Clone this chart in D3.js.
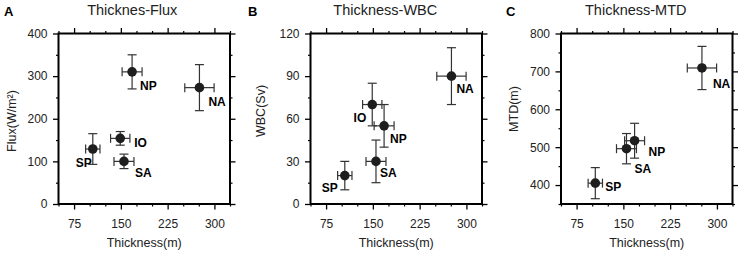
<!DOCTYPE html>
<html><head><meta charset="utf-8">
<script src="https://cdn.jsdelivr.net/npm/d3@7"></script>
<style>
html,body{margin:0;padding:0;background:#fff;}
svg{display:block;font-family:"Liberation Sans",Arial,Helvetica,sans-serif;}
</style></head>
<body>
<svg id="chart" width="743" height="253"></svg>
<script>
// ---- data ----
const regions = ["NP", "NA", "IO", "SA", "SP"];
const thickness = [168, 276, 149, 155, 105];
const thicknessErr = [16, 23.5, 15.5, 16, 11.5];

const flux = [310, 273, 154, 100, 129];
const fluxErr = [40, 54, 16, 17, 36];

const wbc = [55, 90, 70, 30, 20];
const wbcErr = [15, 20, 15, 15, 10];

const mtdRegions = ["NP", "NA", "SA", "SP"];
const mtd = [517, 709, 496, 405];
const mtdErr = [46, 57, 40, 41];

const xTickValues = [75, 150, 225, 300];
const fluxTicks = [0, 100, 200, 300, 400];
const wbcTicks = [0, 30, 60, 90, 120];
const mtdTicks = [400, 500, 600, 700, 800];

// ---- layout/style config ----
const plotTop = 33.5, plotH = 170.5, plotW = 171.5;
const panels = [
  {letter: "A", title: "Thicknes-Flux", yLabel: "Flux(W/m²)", left: 58.5, yDomain: [0, 400], yTicks: fluxTicks, yMinorStep: 50,
   regions: regions, yVals: flux, yErr: fluxErr, yLabelX: 16, yLabelY: 121, letterX: 4, titleDx: -12,
   lab: {NP: [8, 18, "start"], NA: [9, 18, "start"], IO: [14, 9, "start"], SA: [11, 16, "start"], SP: [-1, 18, "end"]}},
  {letter: "B", title: "Thickness-WBC", yLabel: "WBC(Sv)", left: 310.5, yDomain: [0, 120], yTicks: wbcTicks, yMinorStep: 15,
   regions: regions, yVals: wbc, yErr: wbcErr, yLabelX: 265, yLabelY: 111, letterX: 248, titleDx: -11,
   lab: {NP: [6, 17, "start"], NA: [5, 17, "start"], IO: [-6, 17, "end"], SA: [4, 16, "start"], SP: [-7, 16, "end"]}},
  {letter: "C", title: "Thickness-MTD", yLabel: "MTD(m)", left: 561, yDomain: [350, 800], yTicks: mtdTicks, yMinorStep: 50,
   regions: mtdRegions, yVals: mtd, yErr: mtdErr, yLabelX: 518, yLabelY: 109, letterX: 506, titleDx: -11,
   lab: {NP: [14, 15, "start"], NA: [11, 20, "start"], SA: [8, 24, "start"], SP: [10, 8, "start"]}}
];

const svg = d3.select("#chart");

panels.forEach(p => {
  const g = svg.append("g");
  const x = d3.scaleLinear().domain([50, 325]).range([p.left, p.left + plotW]);
  const y = d3.scaleLinear().domain(p.yDomain).range([plotTop + plotH, plotTop]);

  const xMinor = d3.range(50, 326, 25).filter(v => !xTickValues.includes(v));
  const yMinor = d3.range(p.yDomain[0], p.yDomain[1] + 0.001, p.yMinorStep).filter(v => !p.yTicks.includes(v));

  function axisSet(axisFn, scale, transform, major, minor) {
    const a = g.append("g").attr("transform", transform)
      .call(axisFn(scale).tickValues(major).tickSize(5.5).tickFormat(d3.format("d")));
    a.select(".domain").remove();
    a.selectAll("line").attr("stroke", "#000").attr("stroke-width", 1.3);
    const m = g.append("g").attr("transform", transform)
      .call(axisFn(scale).tickValues(minor).tickSize(2.5).tickFormat(""));
    m.select(".domain").remove();
    m.selectAll("line").attr("stroke", "#000").attr("stroke-width", 1.2);
    return a;
  }
  const bx = axisSet(d3.axisBottom, x, `translate(0,${plotTop + plotH})`, xTickValues, xMinor);
  bx.selectAll("text").attr("font-size", 12).attr("fill", "#222").attr("y", 0).attr("dy", 0)
    .attr("transform", "translate(0,23.5)")
    .attr("font-family", "Liberation Sans, Arial, sans-serif");
  const tx = axisSet(d3.axisTop, x, `translate(0,${plotTop})`, xTickValues, xMinor);
  tx.selectAll("text").remove();
  const ly = axisSet(d3.axisLeft, y, `translate(${p.left},0)`, p.yTicks, yMinor);
  ly.selectAll("text").attr("font-size", 12).attr("fill", "#222").attr("x", -11)
    .attr("font-family", "Liberation Sans, Arial, sans-serif");
  const ry = axisSet(d3.axisRight, y, `translate(${p.left + plotW},0)`, p.yTicks, yMinor);
  ry.selectAll("text").remove();

  // box
  g.append("rect").attr("x", p.left).attr("y", plotTop).attr("width", plotW).attr("height", plotH)
    .attr("fill", "none").attr("stroke", "#000").attr("stroke-width", 2);

  // points
  const data = p.regions.map((r, i) => {
    const ti = regions.indexOf(r);
    return {r, tx: thickness[ti], txe: thicknessErr[ti], v: p.yVals[i], ve: p.yErr[i]};
  });
  const cap = 4.5;
  const eb = g.append("g").attr("stroke", "#333").attr("stroke-width", 1.2).attr("fill", "none");
  data.forEach(d => {
    const cx = x(d.tx), cy = y(d.v);
    const y1 = y(d.v + d.ve), y2 = y(d.v - d.ve);
    const x1 = x(d.tx - d.txe), x2 = x(d.tx + d.txe);
    eb.append("line").attr("x1", cx).attr("x2", cx).attr("y1", y1).attr("y2", y2);
    eb.append("line").attr("x1", cx - cap).attr("x2", cx + cap).attr("y1", y1).attr("y2", y1);
    eb.append("line").attr("x1", cx - cap).attr("x2", cx + cap).attr("y1", y2).attr("y2", y2);
    eb.append("line").attr("x1", x1).attr("x2", x2).attr("y1", cy).attr("y2", cy);
    eb.append("line").attr("x1", x1).attr("x2", x1).attr("y1", cy - cap).attr("y2", cy + cap);
    eb.append("line").attr("x1", x2).attr("x2", x2).attr("y1", cy - cap).attr("y2", cy + cap);
  });
  g.append("g").selectAll("circle").data(data).join("circle")
    .attr("cx", d => x(d.tx)).attr("cy", d => y(d.v)).attr("r", 4.8).attr("fill", "#1e1e1e");
  g.append("g").selectAll("text").data(data).join("text")
    .attr("x", d => x(d.tx) + p.lab[d.r][0]).attr("y", d => y(d.v) + p.lab[d.r][1])
    .attr("text-anchor", d => p.lab[d.r][2])
    .attr("font-size", 12).attr("font-weight", "bold").attr("fill", "#000").text(d => d.r);

  // titles
  g.append("text").attr("x", p.left + plotW / 2 + p.titleDx).attr("y", 15).attr("text-anchor", "middle")
    .attr("font-size", 14.5).attr("fill", "#222").text(p.title);
  g.append("text").attr("x", p.letterX).attr("y", 16).attr("font-size", 13).attr("font-weight", "bold")
    .attr("fill", "#000").text(p.letter);
  g.append("text").attr("x", p.left + plotW / 2).attr("y", 247).attr("text-anchor", "middle")
    .attr("font-size", 12.5).attr("fill", "#222").text("Thickness(m)");
  g.append("text").attr("transform", `translate(${p.yLabelX},${p.yLabelY}) rotate(-90)`)
    .attr("text-anchor", "middle").attr("font-size", 12.5).attr("fill", "#222").text(p.yLabel);
});
</script>
</body></html>
